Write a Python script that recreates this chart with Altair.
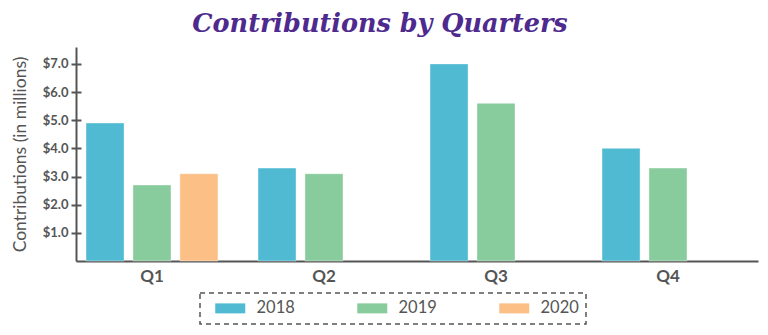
import altair as alt
import pandas as pd

quarters = ["Q1", "Q2", "Q3", "Q4"]
years = ["2018", "2019", "2020"]
values_2018 = [4.9, 3.3, 7.0, 4.0]
values_2019 = [2.7, 3.1, 5.6, 3.3]
values_2020 = [3.1, None, None, None]
colors = ["#4fbad1", "#88cb9c", "#fcbf86"]
y_ticks = [1, 2, 3, 4, 5, 6, 7]

rows = []
for yr, vals in zip(years, [values_2018, values_2019, values_2020]):
    for q, v in zip(quarters, vals):
        if v is not None:
            rows.append({"Quarter": q, "Year": yr, "Value": v})
df = pd.DataFrame(rows)

FONT = "Lato"
GREY = "#555555"

x_enc = alt.X("Quarter:N", sort=quarters, title=None,
              scale=alt.Scale(paddingInner=0.233, paddingOuter=0.099, align=0.294),
              axis=alt.Axis(labelAngle=0, labelFontSize=17, labelFontWeight="bold",
                            labelColor=GREY, labelFont=FONT, ticks=False,
                            domainColor=GREY, domainWidth=2, labelPadding=7))
xoff = alt.XOffset("Year:N", sort=years, scale=alt.Scale(paddingInner=0.19, paddingOuter=0))
color = alt.Color("Year:N", sort=years, scale=alt.Scale(domain=years, range=colors),
                  legend=alt.Legend(title=None, orient="none", direction="horizontal",
                                    legendX=124, legendY=246,
                                    symbolType="M0,-1H6V1H0Z", symbolSize=100,
                                    symbolStrokeWidth=0, symbolOpacity=1,
                                    labelFontSize=16.5, labelColor=GREY, labelFont=FONT,
                                    labelOffset=33, columnPadding=54, padding=7,
                                    strokeColor=GREY))
y_scale = alt.Scale(domain=[0, 7.6], nice=False, zero=True)

bars = alt.Chart(df).mark_bar(stroke="white", strokeOpacity=0.4, strokeWidth=1).encode(
    x=x_enc,
    xOffset=xoff,
    y=alt.Y("Value:Q", scale=y_scale, title="Contributions (in millions)",
            axis=alt.Axis(values=y_ticks, format="$.1f", orient="left", grid=False,
                          tickSize=5, tickWidth=2, tickColor=GREY,
                          domainColor=GREY, domainWidth=2,
                          labelFontSize=13, labelColor=GREY, labelFont=FONT,
                          labelFontWeight="bold", labelPadding=3,
                          titleFontSize=17.5, titleColor=GREY, titleFont=FONT,
                          titleFontWeight="normal", titlePadding=13)),
    color=color,
)

inner_ticks = alt.Chart(df).mark_bar(opacity=0).encode(
    x=x_enc,
    xOffset=xoff,
    y=alt.Y("Value:Q", scale=y_scale, title=None,
            axis=alt.Axis(values=y_ticks, orient="left", offset=-5, grid=False,
                          labels=False, domain=False, tickSize=5, tickWidth=2,
                          tickColor=GREY)),
)

chart = alt.layer(bars, inner_ticks).resolve_axis(y="independent").properties(
    width=682, height=214,
    title=alt.TitleParams("Contributions by Quarters", fontSize=25.5, font="DejaVu Serif",
                          fontStyle="italic", fontWeight="bold", color="#4e2a8e",
                          anchor="middle", frame="group", dx=-37, offset=10),
    autosize=alt.AutoSizeParams(type="none"),
    padding={"left": 76, "top": 47, "right": 10, "bottom": 74},
).configure_view(stroke=None).configure_legend(strokeDash=[5, 4], strokeWidth=1.5)

chart.save("out.html", embed_options={"renderer": "svg", "actions": False})
